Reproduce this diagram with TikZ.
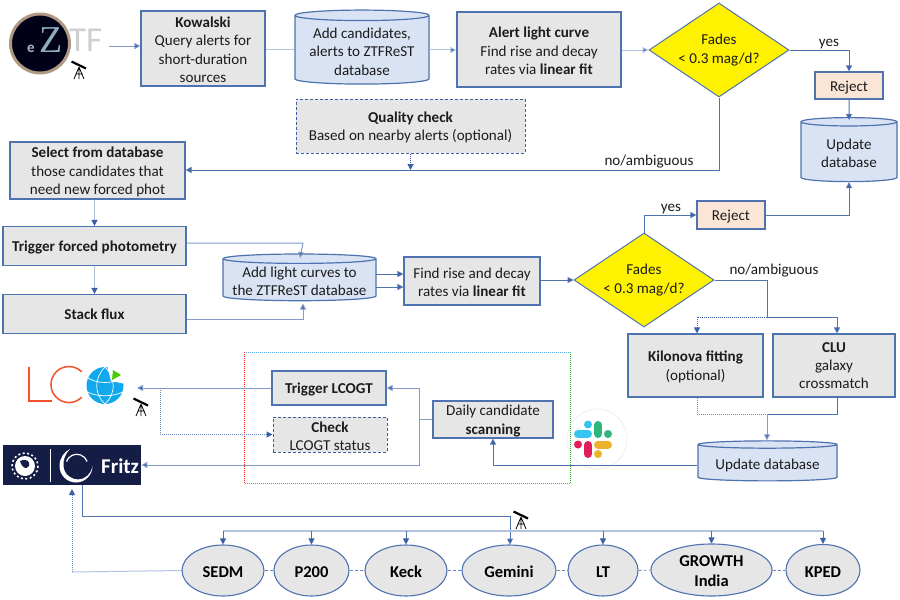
\documentclass[tikz,border=0pt]{standalone}
\usepackage{fontspec}
\setmainfont{Carlito}
\newfontfamily\zfont{Liberation Serif}
\usetikzlibrary{shapes.geometric,arrows.meta,calc}
\newcommand{\dnline}{\rule{0pt}{13.5pt}}
\definecolor{edge}{HTML}{4F72B0}
\definecolor{lite}{HTML}{B2C1DC}
\definecolor{tip}{HTML}{3C60A8}
\definecolor{boxg}{HTML}{E6E6E6}
\definecolor{dbf}{HTML}{DAE3F3}
\definecolor{rej}{HTML}{FBE5D6}
\definecolor{ink}{HTML}{1C1C1C}
\definecolor{navy}{HTML}{141D45}
\definecolor{slb}{HTML}{36C5F0}
\definecolor{slg}{HTML}{2EB67D}
\definecolor{sly}{HTML}{ECB22E}
\definecolor{slr}{HTML}{E01E5A}
\definecolor{lcor}{HTML}{F4512C}
\definecolor{lcob}{HTML}{12A9EC}
\tikzset{
  base/.style={font=\fontsize{15.1}{18.4}\selectfont,text=ink,align=center,inner sep=0pt,execute at begin node={\rule{0pt}{14.5pt}}},
  box/.style={base,rectangle,draw=edge,line width=1.2pt,fill=boxg},
  dbox/.style={box,densely dashed,draw=tip,line width=1pt},
  rejbox/.style={box,fill=rej},
  db/.style={base,cylinder,shape border rotate=90,aspect=0.1,draw=edge,line width=1.2pt,fill=dbf,cylinder uses custom fill,cylinder body fill=dbf,cylinder end fill=dbf},
  dec/.style={base,diamond,draw=edge,line width=1pt,fill=yellow,shape aspect=1.49,minimum width=140pt,minimum height=94pt},
  tel/.style={base,ellipse,draw=edge,line width=1.1pt,fill=boxg,font=\fontsize{16.5}{20}\selectfont\bfseries,text=black},
  lab/.style={base},
  flow/.style={draw=edge,line width=1pt,-{Triangle[length=6pt,width=6pt,fill=tip]}},
  flowthick/.style={draw=lite,line width=1.6pt,-{Triangle[length=6pt,width=6pt,fill=tip,color=tip]}},
  plain/.style={draw=edge,line width=1pt},
  plainthick/.style={draw=lite,line width=1.8pt},
  dflow/.style={draw=tip!75,line width=1pt,densely dotted,-{Triangle[length=6pt,width=6pt,fill=tip,color=tip]}},
  dplain/.style={draw=tip!75,line width=1pt,densely dotted},
  drop/.style={draw=edge,line width=1pt,-{Triangle[length=6pt,width=6pt,fill=tip,color=tip]}},
  pill/.style={line width=8pt,line cap=round},
  tscope/.pic={
    \draw[black,line width=2.2pt] (-7.5,-6.5) -- (7,0.5);
    \draw[black,line width=0.8pt] (0,-1) -- (-5,11) (0,-1) -- (0,11) (0,-1) -- (5,11) (-3.5,6) -- (3.5,6);
  }
}
\begin{document}
\begin{tikzpicture}[x=1pt,y=-1pt]
\useasboundingbox (0,0) rectangle (900,600);

% ZTF logo
\fill[white] (0,0) rectangle (900,600);
\node[base,font=\fontsize{35}{35}\selectfont,text=black!19,anchor=west] (tf) at (69,40) {TF};
\path[fill=black!90!blue,draw=brown!45!gray!80,line width=3pt] (40,43.5) circle (29.5);
\node[base,font=\zfont\fontsize{38}{38}\selectfont,text=cyan!30!gray!85] (zz) at (51,40) {Z};
\node[base,font=\fontsize{15}{15}\selectfont\bfseries,text=cyan!20!gray!70] (ee) at (31,45) {e};
\coordinate (ztf) at (109,46);
\pic at (79,68) {tscope};

% LCO logo
\draw[lcor,line width=1.5pt] (29,367) -- (29,401) -- (52,401);
\draw[lcor,line width=1.5pt] (81.7,371.8) arc (-45:-315:18);
\fill[lcob] (105,385.5) circle (18.5);
\draw[white,line width=0.7pt] (105,367) .. controls (94,378) and (94,394) .. (105,404)
  (105,367) .. controls (116,378) and (116,394) .. (105,404)
  (88,378) .. controls (98,384) and (112,384) .. (123,378)
  (87,392) .. controls (98,397) and (112,397) .. (123,392);
\fill[white] (107,365) -- (111,381) -- (126,384) -- (128,364) -- cycle;
\fill[green!65!yellow!80!black] (113,370) -- (121,375) -- (112,380) -- cycle;
\coordinate (lco) at (137,388);
\pic at (141,405) {tscope};

% Fritz logo
\node[base,rectangle,fill=navy,minimum width=138pt,minimum height=40pt,anchor=north west] (fritz) at (3,445) {};
\node[base,text=white,font=\fontsize{21}{21}\selectfont\bfseries,anchor=west] (fritzt) at (101,466) {Fritz};
\fill[white] (25,466) circle (10);
\draw[white,line width=1.6pt,dash pattern=on 2pt off 2.5pt] (25,466) circle (13);
\fill[navy] (20,461) .. controls (25,458) and (31,461) .. (29,466) .. controls (26,470) and (22,468) .. cycle;
\draw[white,line width=0.6pt] (50,449) -- (50,482);
\fill[white] (92.5,466) arc (0:180:16.5) .. controls (59.5,458) and (64,452) .. (70,449) .. controls (65,454) and (63,460) .. (63.5,466) .. controls (64,475) and (72,479.5) .. (78,479.5) .. controls (85,479.5) and (91,474) .. cycle;
\draw[white,line width=1.2pt] (66.5,461.5) arc (-160:-20:11);

% Slack logo
\draw[black!7,line width=0.7pt] (597,439) circle (30);
\draw[slb,pill] (578,434) -- (588,434);
\fill[slb] (588,424.5) circle (4);
\draw[slg,pill] (598,425) -- (598,434);
\fill[slg] (608,434) circle (4);
\draw[sly,pill] (598,444.5) -- (608,444.5);
\fill[sly] (598,454) circle (4);
\draw[slr,pill] (588,445) -- (588,454);
\fill[slr] (578,444.5) circle (4);

% coloured dotted frame
\draw[densely dotted,line width=1pt,cyan!70!blue!70] (244,352) -- (570,352);
\draw[densely dotted,line width=1pt,green!60!black!80] (570,352) -- (570,483);
\draw[densely dotted,line width=1pt,orange!90!black] (570,483) -- (244,483);
\draw[densely dotted,line width=1pt,red!90] (244,483) -- (244,352);

% top row
\node[box,minimum width=124pt,minimum height=75pt] (kow) at (203,48.5) {\dnline\textbf{Kowalski}\\Query alerts for\\short-duration\\sources};
\node[db,minimum width=134pt,minimum height=74pt] (db1) at (362,50) {\dnline Add candidates,\\alerts to ZTFReST\\database};
\node[box,minimum width=164pt,minimum height=75pt] (alc) at (539,49.5) {\dnline\textbf{Alert light curve}\\Find rise and decay\\rates via \textbf{linear fit}};
\node[dec] (d1) at (719,50) {Fades\\< 0.3 mag/d?};
\node[rejbox,minimum width=68pt,minimum height=27pt] (r1) at (849,85.5) {Reject};
\node[db,aspect=0.15,minimum width=96pt,minimum height=64pt] (db2) at (849,152) {\dnline Update\\database};
\node[dbox,minimum width=229pt,minimum height=54pt] (qc) at (410.5,126) {\dnline\textbf{Quality check}\\Based on nearby alerts (optional)};
\node[lab] (l1) at (649,160) {no/ambiguous};
\node[lab] (l2) at (829,40) {yes};

% left column
\node[box,minimum width=175pt,minimum height=57pt] (sel) at (97.5,170.5) {\dnline\textbf{Select from database}\\those candidates that\\need new forced phot};
\node[box,minimum width=183pt,minimum height=39pt] (tfp) at (94.5,246) {\textbf{Trigger forced photometry}};
\node[box,minimum width=183pt,minimum height=39pt] (stk) at (94.5,314) {\raisebox{2pt}{\textbf{Stack flux}}};

% middle row
\node[db,minimum width=153pt,minimum height=44pt,aspect=0.07] (db3) at (299.5,280) {\dnline Add light curves to\\the ZTFReST database};
\node[box,minimum width=136pt,minimum height=48pt] (fnd) at (472,281) {\dnline Find rise and decay\\rates via \textbf{linear fit}};
\node[dec] (d2) at (644,280) {Fades\\< 0.3 mag/d?};
\node[rejbox,minimum width=68pt,minimum height=28pt] (r2) at (731,215) {Reject};
\node[lab] (l3) at (671,205) {yes};
\node[lab] (l4) at (774,269) {no/ambiguous};

% right column
\node[box,minimum width=135pt,minimum height=63pt] (kil) at (695.5,365.5) {\dnline\textbf{Kilonova fitting}\\(optional)};
\node[box,minimum width=122pt,minimum height=63pt] (clu) at (834,365.5) {\textbf{CLU}\\galaxy\\crossmatch};
\node[db,minimum width=139pt,minimum height=40pt,aspect=0.07] (db4) at (767.5,463) {Update database};

% scanning frame
\node[box,minimum width=114pt,minimum height=34pt] (tl) at (329,388) {\textbf{Trigger LCOGT}};
\node[dbox,minimum width=114pt,minimum height=35pt] (chk) at (330,434.5) {\dnline\textbf{Check}\\LCOGT status};
\node[box,minimum width=120pt,minimum height=37pt] (day) at (493,419.5) {\dnline Daily candidate\\\textbf{scanning}};

% telescopes
\node[tel,minimum width=82pt,minimum height=51pt] (t1) at (223,570.5) {SEDM};
\node[tel,minimum width=75pt,minimum height=51pt] (t2) at (311.5,570.5) {P200};
\node[tel,minimum width=82pt,minimum height=51pt] (t3) at (406,570.5) {Keck};
\node[tel,minimum width=94pt,minimum height=51pt] (t4) at (509,570.5) {Gemini};
\node[tel,minimum width=70pt,minimum height=51pt] (t5) at (603,570.5) {LT};
\node[tel,minimum width=121pt,minimum height=52pt] (t6) at (711.5,570) {\dnline GROWTH\\India};
\node[tel,minimum width=74pt,minimum height=51pt] (t7) at (823,570) {KPED};
\pic at (521,518) {tscope};

% connectors: top row
\draw[flow,draw=edge!70] (ztf) -- (kow.west |- ztf);
\draw[plain,draw=lite] (kow.east |- db1.west) -- (db1.west);
\draw[flow,draw=lite] (db1.east) -- (alc.west |- db1.east);
\draw[flow,draw=lite] (alc.east |- d1.west) -- (d1.west);
\draw[flow] (d1.east) -| (r1.north);
\draw[flow] (r1.south) -- (db2.north |- 0,120);
\coordinate (bend1) at (d1.south |- 0,170);
\draw[flow] (d1.south) -- (bend1) -- (sel.east |- bend1);
\draw[dflow,draw=tip] (qc.south) -- (qc.south |- bend1);

% connectors: left column
\draw[flowthick] (sel.south -| tfp.north) -- (tfp.north);
\draw[flowthick] (tfp.south) -- (stk.north);
\coordinate (c1) at (303,243);
\coordinate (c2) at (303,319);
\draw[flow,draw=edge!70] (tfp.east |- c1) -- (c1) -- (300,258);
\draw[flow,draw=edge!70] (stk.east |- c2) -- (c2) -- (303,303.5);
\coordinate (c3) at (376,274);
\coordinate (c4) at (376,287);
\draw[flow] (c3) -- (fnd.west |- c3);
\draw[flow] (c4) -- (fnd.west |- c4);
\draw[flow] (fnd.east |- d2.west) -- (d2.west);

% connectors: right side
\coordinate (c5) at (644,215);
\draw[plain] (d2.north) -- (c5);
\draw[flow] (c5) -- (r2.west);
\draw[flow] (r2.east) -| (db2.south);
\coordinate (c6) at (767,317);
\coordinate (c7) at (767,414);
\draw[plain] (d2.east) -| (c6);
\draw[flow] (c6) -| (clu.north -| 837,0);
\draw[dflow,draw=tip] (c6) -| (kil.north -| 697,0);
\draw[dplain] (kil.south -| 697,0) |- (c7);
\draw[plain] (clu.south -| 837,0) |- (c7);
\draw[flow,draw=edge!70] (c7) -- (c7 |- db4.north);

% connectors: scanning
\coordinate (c8) at (493,465);
\draw[flow] (db4.west |- c8) -- (c8) -- (day.south);
\coordinate (c9) at (419,388);
\coordinate (c10) at (419,465);
\draw[plain,draw=edge!70] (day.west) -- (c9 |- day.west);
\draw[flow,draw=edge!70] (c9 |- day.west) -- (c9) -- (tl.east);
\draw[flow,draw=edge!70] (c9 |- day.west) -- (c10) -- (fritz.east |- c10);
\draw[flow,draw=edge!70] (tl.west) -- (lco);
\coordinate (c11) at (160,388);
\draw[dflow] (c11) |- (chk.west);

% connectors: telescopes
\coordinate (c12) at (510,516);
\draw[plain] (fritz.south -| 82,0) |- (c12);
\draw[flow] (c12) -- (510,544.5);
\draw[plainthick] (t1.north |- 0,531) -- (t7.north |- 0,531);
\foreach \n in {t1,t2,t3,t5,t6,t7}{\draw[drop] (\n.north |- 0,531) -- (\n.north);}
\foreach \a/\b in {t1/t2,t2/t3,t3/t4,t4/t5,t5/t6,t6/t7}{\draw[dplain,densely dashed,line width=0.8pt] (\a.east) -- (\b.west);}
\coordinate (c13) at (72,572);
\draw[dplain] (t1.west) -- (c13);
\draw[dflow] (c13) -- (72,489);
\end{tikzpicture}
\end{document}
